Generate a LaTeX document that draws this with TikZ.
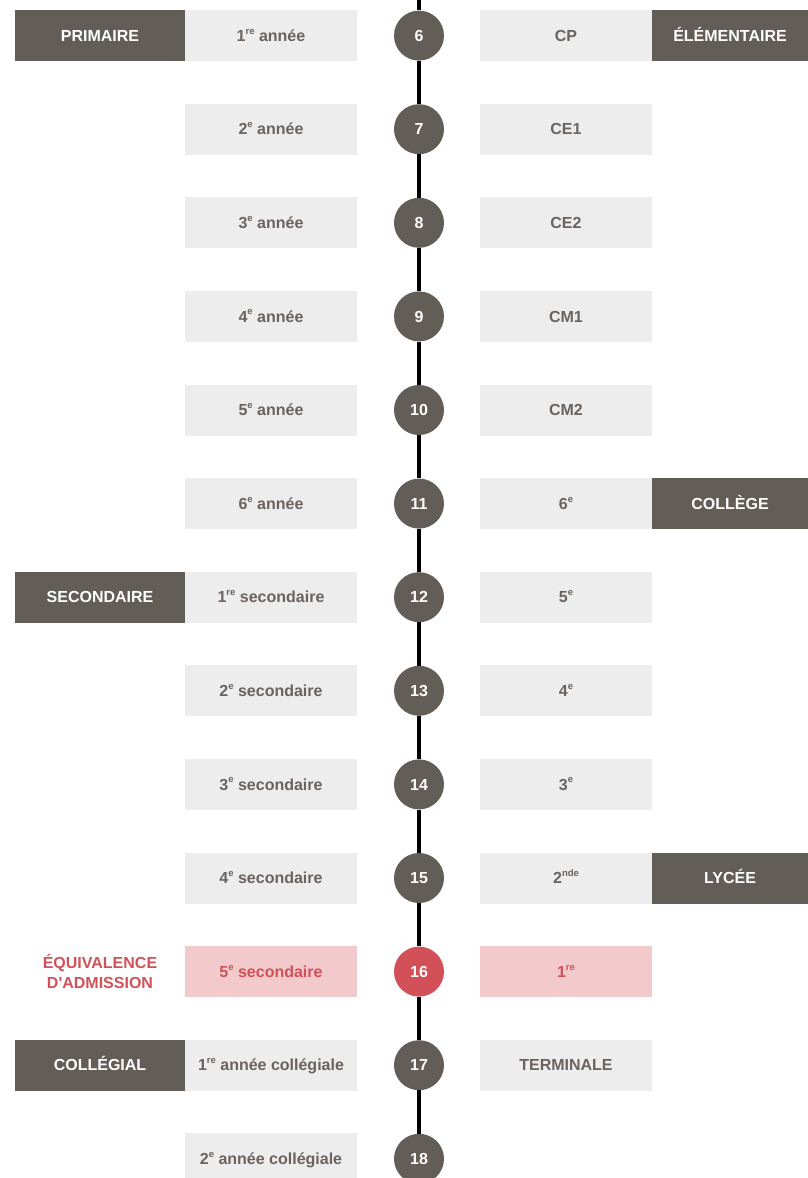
\documentclass[tikz,border=0pt]{standalone}
\usepackage{fontspec}
\setmainfont{Liberation Sans}
\newcommand{\ex}[1]{\raisebox{0.45em}{\fontsize{9.5}{9.5}\selectfont #1}}
\definecolor{dark}{HTML}{635D58}
\definecolor{lite}{HTML}{EDEDED}
\definecolor{txt}{HTML}{6A635F}
\definecolor{pinkbg}{HTML}{F2CACB}
\definecolor{redc}{HTML}{D25159}
\tikzset{
  base/.style={inner sep=0pt, font=\fontsize{16}{19}\selectfont\bfseries, text height=11.5pt, text depth=0pt},
  gradebox/.style={base, fill=lite, text=txt, minimum width=172pt, minimum height=51pt},
  catbox/.style={base, fill=dark, text=white, minimum height=51pt},
  agecirc/.style={base, circle, fill=dark, text=white, minimum size=50pt},
  redbox/.style={gradebox, fill=pinkbg, text=redc},
  redcirc/.style={agecirc, fill=redc},
  spine/.style={line width=4pt, black},
}
\begin{document}
\begin{tikzpicture}[x=1pt, y=-1pt]
\useasboundingbox (0,0) rectangle (808,1178);
\def\ry#1{35.6+93.6*#1}
\coordinate (top) at (419,0);
\coordinate (bot) at (419,1178);
% circles
\foreach \i/\a in {0/6,1/7,2/8,3/9,4/10,5/11,6/12,7/13,8/14,9/15,11/17,12/18}{
  \node[agecirc] (c\a) at (419,{\ry{\i}}) {\a};
}
\node[redcirc] (c16) at (419,{\ry{10}}) {16};
% spine
\draw[spine] (top) -- (c6);
\foreach \a/\b in {6/7,7/8,8/9,9/10,10/11,11/12,12/13,13/14,14/15,15/16,16/17,17/18}{
  \draw[spine] (c\a) -- (c\b);
}
\draw[spine] (c18) -- (bot);
% left grades
\node[gradebox] (l6) at (271,{\ry{0}}) {1\ex{re} année};
\node[gradebox] (l7) at (271,{\ry{1}}) {2\ex{e} année};
\node[gradebox] (l8) at (271,{\ry{2}}) {3\ex{e} année};
\node[gradebox] (l9) at (271,{\ry{3}}) {4\ex{e} année};
\node[gradebox] (l10) at (271,{\ry{4}}) {5\ex{e} année};
\node[gradebox] (l11) at (271,{\ry{5}}) {6\ex{e} année};
\node[gradebox] (l12) at (271,{\ry{6}}) {1\ex{re} secondaire};
\node[gradebox] (l13) at (271,{\ry{7}}) {2\ex{e} secondaire};
\node[gradebox] (l14) at (271,{\ry{8}}) {3\ex{e} secondaire};
\node[gradebox] (l15) at (271,{\ry{9}}) {4\ex{e} secondaire};
\node[redbox] (l16) at (271,{\ry{10}}) {5\ex{e} secondaire};
\node[gradebox] (l17) at (271,{\ry{11}}) {1\ex{re} année collégiale};
\node[gradebox] (l18) at (271,{\ry{12}}) {2\ex{e} année collégiale};
% right grades
\node[gradebox] (r6) at (566,{\ry{0}}) {CP};
\node[gradebox] (r7) at (566,{\ry{1}}) {CE1};
\node[gradebox] (r8) at (566,{\ry{2}}) {CE2};
\node[gradebox] (r9) at (566,{\ry{3}}) {CM1};
\node[gradebox] (r10) at (566,{\ry{4}}) {CM2};
\node[gradebox] (r11) at (566,{\ry{5}}) {6\ex{e}};
\node[gradebox] (r12) at (566,{\ry{6}}) {5\ex{e}};
\node[gradebox] (r13) at (566,{\ry{7}}) {4\ex{e}};
\node[gradebox] (r14) at (566,{\ry{8}}) {3\ex{e}};
\node[gradebox] (r15) at (566,{\ry{9}}) {2\ex{nde}};
\node[redbox] (r16) at (566,{\ry{10}}) {1\ex{re}};
\node[gradebox] (r17) at (566,{\ry{11}}) {TERMINALE};
% categories
\node[catbox, minimum width=170pt] (kprim) at (100,{\ry{0}}) {PRIMAIRE};
\node[catbox, minimum width=170pt] (ksec) at (100,{\ry{6}}) {SECONDAIRE};
\node[catbox, minimum width=170pt] (kcol) at (100,{\ry{11}}) {COLLÉGIAL};
\node[inner sep=0pt, text=redc, align=center, font=\fontsize{16}{20}\selectfont\bfseries] (keq) at (100,{\ry{10}}) {ÉQUIVALENCE\\D\textquotesingle ADMISSION};
\node[catbox, minimum width=156pt] (kelem) at (730,{\ry{0}}) {ÉLÉMENTAIRE};
\node[catbox, minimum width=156pt] (kcoll) at (730,{\ry{5}}) {COLLÈGE};
\node[catbox, minimum width=156pt] (klyc) at (730,{\ry{9}}) {LYCÉE};
\end{tikzpicture}
\end{document}
